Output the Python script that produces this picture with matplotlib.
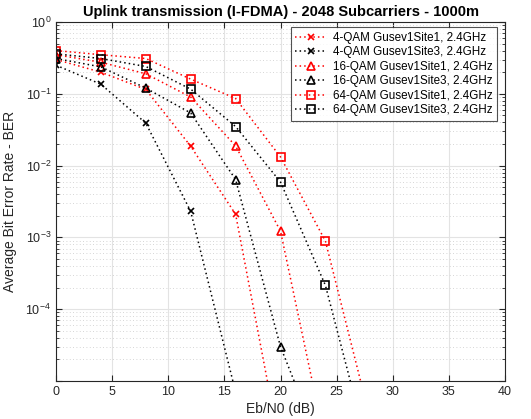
import numpy as np
import matplotlib
matplotlib.use("Agg")
import matplotlib.pyplot as plt
from matplotlib.ticker import LogLocator, MultipleLocator, NullFormatter

plt.rcParams['font.family'] = ['Liberation Sans', 'DejaVu Sans']
plt.rcParams['mathtext.fontset'] = 'custom'
plt.rcParams['mathtext.rm'] = 'Liberation Sans'
plt.rcParams['mathtext.it'] = 'Liberation Sans:italic'
plt.rcParams['mathtext.bf'] = 'Liberation Sans:bold'

# Eb/N0 sweep (dB)
ebn0 = [0, 4, 8, 12, 16, 20, 24, 28]

# BER curves, Gusev1 sites at 2.4 GHz
ber_4qam_site1 = [0.30, 0.20, 0.115, 0.0186, 0.0021, 1.1e-6]
ber_4qam_site3 = [0.25, 0.136, 0.039, 0.0023, 7e-6]
ber_16qam_site1 = [0.35, 0.275, 0.19, 0.090, 0.0188, 0.00122, 1.35e-6]
ber_16qam_site3 = [0.31, 0.237, 0.12, 0.054, 0.0064, 3.0e-5, 8e-7]
ber_64qam_site1 = [0.40, 0.35, 0.31, 0.16, 0.086, 0.0132, 8.9e-4, 2.9e-6]
ber_64qam_site3 = [0.36, 0.31, 0.24, 0.116, 0.035, 0.0059, 2.15e-4, 8.5e-7]

series = [
    ("4-QAM Gusev1Site1, 2.4GHz", ber_4qam_site1, 'red', 'x'),
    ("4-QAM Gusev1Site3, 2.4GHz", ber_4qam_site3, 'black', 'x'),
    ("16-QAM Gusev1Site1, 2.4GHz", ber_16qam_site1, 'red', '^'),
    ("16-QAM Gusev1Site3, 2.4GHz", ber_16qam_site3, 'black', '^'),
    ("64-QAM Gusev1Site1, 2.4GHz", ber_64qam_site1, 'red', 's'),
    ("64-QAM Gusev1Site3, 2.4GHz", ber_64qam_site3, 'black', 's'),
]

fig = plt.figure(figsize=(5.31, 4.19), dpi=100)
ax = fig.add_axes([0.1055, 0.0907, 0.8455, 0.8568])

for label, ber, color, marker in series:
    x = ebn0[:len(ber)]
    ax.semilogy(x, ber, linestyle=(0, (1, 2)), linewidth=1.1, color=color,
                marker=marker, markersize=5.5 if marker != 'x' else 5,
                markerfacecolor='none', markeredgecolor=color,
                markeredgewidth=1.2, label=label)

ax.set_xlim(0, 40)
ax.set_ylim(1e-5, 1)
ax.xaxis.set_major_locator(MultipleLocator(5))
ax.yaxis.set_major_locator(LogLocator(base=10, numticks=10))
ax.yaxis.set_minor_locator(LogLocator(base=10, subs=np.arange(2, 10), numticks=20))
ax.yaxis.set_minor_formatter(NullFormatter())

# only label the upper decades of the log axis
def ylab(v, pos):
    e = int(round(np.log10(v)))
    if e < -4:
        return ''
    return r'$10^{%d}$' % e
ax.yaxis.set_major_formatter(plt.FuncFormatter(ylab))

ax.grid(True, which='major', color='#e3e3e3', linewidth=0.8, linestyle='-')
ax.grid(True, which='minor', axis='y', color='#c8c8c8', linewidth=0.6, linestyle=(0, (1, 3)))
ax.set_axisbelow(True)

for s in ax.spines.values():
    s.set_color('#262626')
    s.set_linewidth(0.8)

ax.tick_params(which='both', direction='in', top=True, right=True,
               colors='#262626', labelsize=9)
ax.tick_params(which='major', length=4)
ax.tick_params(which='minor', length=2)

ax.set_xlabel('Eb/N0 (dB)', fontsize=10, color='#262626', labelpad=3)
ax.set_ylabel('Average Bit Error Rate - BER', fontsize=10, color='#262626', labelpad=6)
ax.set_title('Uplink transmission (I-FDMA) - 2048 Subcarriers - 1000m',
             fontsize=10.5, fontweight='bold', pad=4)

leg = ax.legend(loc='upper right', bbox_to_anchor=(0.99, 0.996), fontsize=8.4,
                frameon=True, fancybox=False, handlelength=2.7,
                borderpad=0.4, labelspacing=0.22, handletextpad=0.5,
                borderaxespad=0.3)
leg.get_frame().set_edgecolor('#262626')
leg.get_frame().set_linewidth(0.8)

fig.savefig('out.png', dpi=100, facecolor='white')
